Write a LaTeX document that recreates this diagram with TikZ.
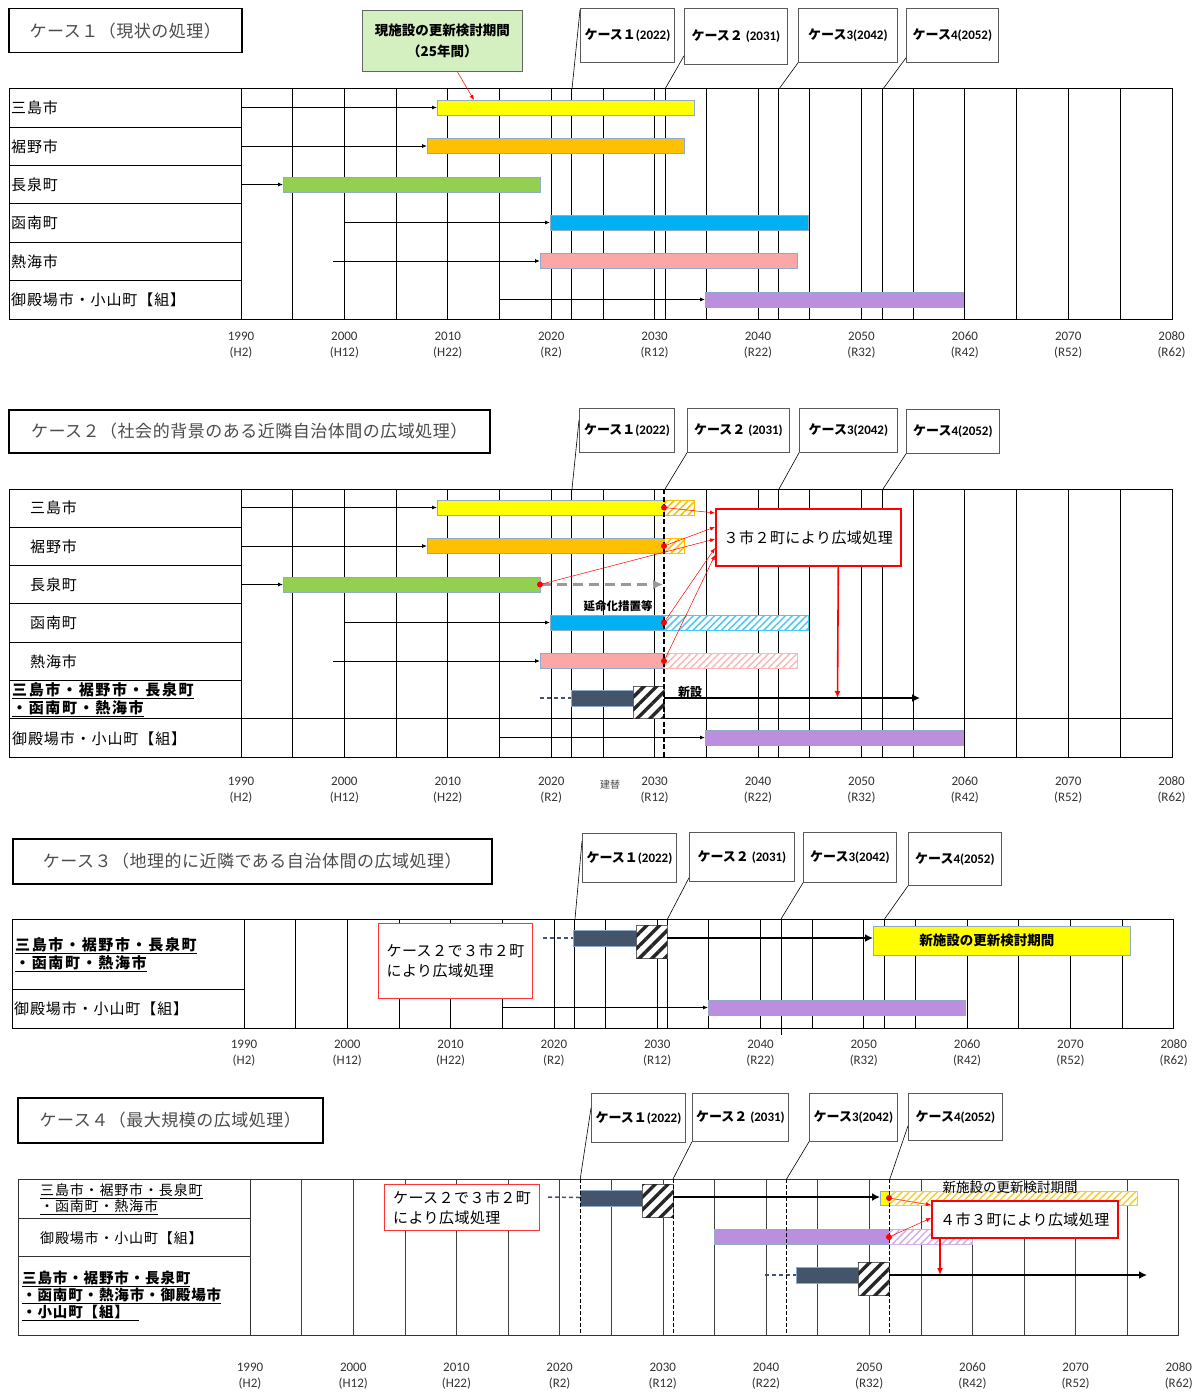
\documentclass[tikz,border=0pt]{standalone}
\usepackage{fontspec}
\setmainfont{Carlito}
\newfontfamily\jp{Noto Sans CJK JP}
\newfontfamily\jpt[LetterSpace=3]{Noto Sans CJK JP}
\newfontfamily\jpa[LetterSpace=6]{Noto Sans CJK JP}
\newfontfamily\jpb[LetterSpace=11]{Noto Sans CJK JP}
\usetikzlibrary{arrows.meta,patterns.meta}
\definecolor{cyel}{HTML}{FFFF00}
\definecolor{corg}{HTML}{FFC000}
\definecolor{cgrn}{HTML}{92D050}
\definecolor{cblu}{HTML}{00B0F0}
\definecolor{cpnk}{HTML}{F9A7A7}
\definecolor{cpur}{HTML}{BB8FDD}
\definecolor{cnav}{HTML}{44546A}
\definecolor{cedge}{HTML}{8FAACC}
\definecolor{cmint}{HTML}{D5F0C0}
\definecolor{cgold}{HTML}{F2C200}

\begin{document}
\begin{tikzpicture}[x=1pt, y=-1pt,
    ttl/.style={draw=black, line width=1.5pt, anchor=north west, inner sep=0pt, text=black!70, font=\jpt\fontsize{17}{20}\selectfont},
    casebox/.style={draw=black!65, line width=0.8pt, fill=white, anchor=north west, inner sep=0pt, font=\bfseries\fontsize{13}{15}\selectfont},
    lbl/.style={anchor=west, inner sep=0pt, font=\jpa\fontsize{15}{17}\selectfont},
    glbl/.style={anchor=west, inner sep=0pt, align=left, font=\jpb\bfseries\fontsize{15}{18}\selectfont},
    bar/.style={draw=cedge, line width=0.8pt, anchor=west, minimum height=15pt, inner sep=0pt},
    hatch/.style={draw=#1, line width=0.8pt, anchor=west, minimum height=15pt, inner sep=0pt, fill=white, postaction={pattern={Lines[angle=45,distance=5pt,line width=1.5pt]}, pattern color=#1}},
    stripe/.style={draw=black!60, line width=0.8pt, anchor=north west, inner sep=0pt, minimum width=31pt, minimum height=33pt, fill=white, postaction={pattern={Lines[angle=45,distance=9pt,line width=3.4pt]}, pattern color=black!85}},
    redbox/.style={draw=red, line width=1.6pt, fill=white, anchor=north west, inner sep=0pt, align=left, font=\jpt\fontsize{15}{20}\selectfont},
    dot/.style={circle, fill=red, inner sep=0pt, minimum size=6pt},
    yr/.style={align=center, inner sep=0pt, text=black!80, font=\fontsize{13}{16}\selectfont},
    tbl/.style={line width=1pt},
    gl/.style={line width=0.8pt},
    ptr/.style={line width=0.6pt},
    arr/.style={-{Latex[length=5pt,width=4pt]}, line width=0.8pt},
    bigarr/.style={-{Latex[length=8pt,width=8pt]}, line width=1.8pt},
    redarr/.style={red, -{Latex[length=5pt,width=4pt]}, line width=0.5pt},
    redbig/.style={red, -{Latex[length=7pt,width=6pt]}, line width=1.6pt},
    navdash/.style={cnav, line width=1.5pt, dash pattern=on 4pt off 3pt},
    grayarr/.style={black!40, line width=2.2pt, dash pattern=on 10pt off 6pt, -{Latex[length=10pt,width=10pt]}},
    tinytxt/.style={inner sep=0pt, font=\jp\bfseries\fontsize{11.5}{13}\selectfont}
    ]
\useasboundingbox (0,0) rectangle (1197,1394);
\fill[white] (0,0) rectangle (1197,1394);

% ---------------- case 1
\node[ttl, minimum width=233pt, minimum height=44pt] (t1) at (8,8) {ケース１（現状の処理）};
\node[casebox, minimum width=94pt, minimum height=54pt] (c11) at (580,8) {{\jp ケース１}(2022)};
\node[casebox, minimum width=103pt, minimum height=56pt] (c12) at (684,8) {{\jp ケース２} (2031)};
\node[casebox, minimum width=99pt, minimum height=54pt] (c13) at (798,8) {{\jp ケース}3(2042)};
\node[casebox, minimum width=92pt, minimum height=54pt] (c14) at (906,8) {{\jp ケース}4(2052)};
\node[draw=black!60, line width=0.8pt, fill=cmint, anchor=north west, minimum width=160pt, minimum height=61pt, inner sep=0pt, align=center, font=\jp\bfseries\fontsize{13.5}{21}\selectfont] (g1) at (362,10) {現施設の更新検討期間\\（25年間）};

\foreach \k in {5,10,...,85,32,41,52,62}
  \draw[gl] (241+\k*10.34,89) -- (241+\k*10.34,319);
\draw[tbl] (9,89) rectangle (1172,319);
\draw[tbl] (241,89) -- (241,319);
\foreach \r in {1,...,5}
  \draw[tbl] (9,89+\r*38.33) -- (241,89+\r*38.33);

\coordinate (p11) at (572,89);
\coordinate (p12) at (665,89);
\coordinate (p13) at (779,89);
\coordinate (p14) at (883,89);
\draw[ptr] (p11) -- ([yshift=-2pt]c11.north west);
\draw[ptr] (p12) -- ([yshift=9pt]c12.south west);
\draw[ptr] (p13) -- (c13.south west);
\draw[ptr] (p14) -- ([yshift=5pt]c14.south west);

\foreach \nm [count=\i] in {三島市,裾野市,長泉町,函南町,熱海市,御殿場市・小山町【組】}
  \node[lbl] (l1\i) at (11,69.8+\i*38.33) {\nm};

\node[bar, fill=cyel, minimum width=257pt] (m1) at (437,107.5) {};
\node[bar, fill=corg, minimum width=257pt] (s1) at (427,146) {};
\node[bar, fill=cgrn, minimum width=257pt] (n1) at (283,184.5) {};
\node[bar, fill=cblu, minimum width=258pt] (k1) at (550,222.5) {};
\node[bar, fill=cpnk, minimum width=257pt] (a1) at (540,261) {};
\node[bar, fill=cpur, minimum width=258pt] (o1) at (705,299.5) {};
\coordinate (m1s) at (241,107.5);
\coordinate (s1s) at (241,146);
\coordinate (n1s) at (241,184.5);
\coordinate (k1s) at (344,222.5);
\coordinate (a1s) at (333,261);
\coordinate (o1s) at (499,299.5);
\draw[arr] (m1s) -- (m1);
\draw[arr] (s1s) -- (s1);
\draw[arr] (n1s) -- (n1);
\draw[arr] (k1s) -- (k1);
\draw[arr] (a1s) -- (a1);
\draw[arr] (o1s) -- (o1);
\coordinate (g1e) at (474,100);
\draw[redarr] ([xshift=15pt]g1.south) -- (g1e);

\foreach \y/\e [count=\i from 0] in {1990/H2,2000/H12,2010/H22,2020/R2,2030/R12,2040/R22,2050/R32,2060/R42,2070/R52,2080/R62}
  \node[yr] (ya\i) at (241+\i*103.4,345) {\y\\(\e)};

% ---------------- case 2
\node[ttl, minimum width=481pt, minimum height=43pt] (t2) at (8,409) {ケース２（社会的背景のある近隣自治体間の広域処理）};
\node[casebox, minimum width=95pt, minimum height=44pt] (c21) at (579,408) {{\jp ケース１}(2022)};
\node[casebox, minimum width=102pt, minimum height=44pt] (c22) at (687,408) {{\jp ケース２} (2031)};
\node[casebox, minimum width=98pt, minimum height=44pt] (c23) at (799,408) {{\jp ケース}3(2042)};
\node[casebox, minimum width=93pt, minimum height=44pt] (c24) at (906,409) {{\jp ケース}4(2052)};

\foreach \k in {5,10,...,85,32,52,62}
  \draw[gl] (241+\k*10.34,489) -- (241+\k*10.34,757);
\draw[tbl] (9,489) rectangle (1172,757);
\draw[tbl] (241,489) -- (241,757);
\foreach \r in {1,...,5}
  \draw[tbl] (9,489+\r*38.29) -- (241,489+\r*38.29);
\draw[tbl] (9,718.7) -- (1172,718.7);

\coordinate (p21) at (572,489);
\coordinate (p22) at (665,489);
\coordinate (p23) at (779,489);
\coordinate (p24) at (883,489);
\draw[ptr] (p21) -- ([yshift=-12pt]c21.north west);
\draw[ptr] (p22) -- (c22.south west);
\draw[ptr] (p23) -- (c23.south west);
\draw[ptr] (p24) -- (c24.south west);

\foreach \nm [count=\i] in {三島市,裾野市,長泉町,函南町,熱海市}
  \node[lbl] (l2\i) at (30,469.9+\i*38.29) {\nm};
\node[glbl] (lg2) at (12,699.5) {\underline{三島市・裾野市・長泉町}\\\underline{・函南町・熱海市}};
\node[lbl] (lo2) at (12,738.5) {御殿場市・小山町【組】};

\node[bar, fill=cyel, minimum width=227pt] (m2) at (437,507.5) {};
\node[hatch=cgold, minimum width=30pt] (m2h) at (664,507.5) {};
\node[bar, fill=corg, minimum width=237pt] (s2) at (427,546) {};
\node[hatch=corg, minimum width=20pt] (s2h) at (664,546) {};
\node[bar, fill=cgrn, minimum width=257pt] (n2) at (283,584.5) {};
\node[bar, fill=cblu, minimum width=114pt] (k2) at (550,622.5) {};
\node[hatch=cblu!70, minimum width=144pt] (k2h) at (664,622.5) {};
\node[bar, fill=cpnk, minimum width=124pt] (a2) at (540,661) {};
\node[hatch=cpnk!80, minimum width=133pt] (a2h) at (664,661) {};
\node[bar, fill=cpur, minimum width=258pt] (o2) at (705,737.5) {};
\coordinate (m2s) at (241,507.5);
\coordinate (s2s) at (241,546);
\coordinate (n2s) at (241,584.5);
\coordinate (k2s) at (344,622.5);
\coordinate (a2s) at (333,661);
\coordinate (o2s) at (499,737.5);
\draw[arr] (m2s) -- (m2);
\draw[arr] (s2s) -- (s2);
\draw[arr] (n2s) -- (n2);
\draw[arr] (k2s) -- (k2);
\draw[arr] (a2s) -- (a2);
\draw[arr] (o2s) -- (o2);
\coordinate (ge2) at (663,584.5);
\draw[grayarr] (n2) -- (ge2);
\node[tinytxt] (en2) at (618,606) {延命化措置等};

% new facility row
\coordinate (nv2) at (540,698);
\node[bar, fill=cnav, minimum width=62pt, minimum height=16pt] (d2) at (571,698) {};
\draw[navdash] (nv2) -- (d2);
\node[stripe, minimum height=32pt] (x2) at (633,686) {};
\coordinate (xs2) at (664,698);
\coordinate (xe2) at (920,698);
\draw[bigarr] (xs2) -- (xe2);
\node[tinytxt, font=\jp\bfseries\fontsize{12}{13}\selectfont] (ns2) at (690,692) {新設};

\draw[line width=1.5pt, dash pattern=on 5pt off 2.5pt] (664,489) -- (664,757);

\node[redbox, minimum width=185pt, minimum height=57pt, align=center] (r2) at (715,508) {３市２町により広域処理};
\node[dot] (dm2) at (664,507.5) {};
\node[dot] (ds2) at (664,546) {};
\node[dot] (dn2) at (540,584.5) {};
\node[dot] (dk2) at (664,622.5) {};
\node[dot] (da2) at (664,661) {};
\draw[redarr] (dm2) -- ([yshift=-5pt]r2.north west);
\draw[redarr] (ds2) -- ([yshift=-19pt]r2.north west);
\draw[redarr] (dn2) -- ([yshift=-31pt]r2.north west);
\draw[redarr] (dk2) -- ([yshift=-40pt]r2.north west);
\draw[redarr] (da2) -- ([yshift=-47pt]r2.north west);
\coordinate (rt2) at (837.5,698);
\draw[redbig] ([xshift=30pt]r2.south) -- (rt2);

\foreach \y/\e [count=\i from 0] in {1990/H2,2000/H12,2010/H22,2020/R2,2030/R12,2040/R22,2050/R32,2060/R42,2070/R52,2080/R62}
  \node[yr] (yb\i) at (241+\i*103.4,790) {\y\\(\e)};
\node[inner sep=0pt, text=black!70, font=\jp\fontsize{10}{11}\selectfont] (kt2) at (610,785) {建替};

% ---------------- case 3
\node[ttl, minimum width=479pt, minimum height=45pt] (t3) at (12,838) {ケース３（地理的に近隣である自治体間の広域処理）};
\node[casebox, minimum width=94pt, minimum height=49pt] (c31) at (582,833) {{\jp ケース１}(2022)};
\node[casebox, minimum width=105pt, minimum height=49pt] (c32) at (689,832) {{\jp ケース２} (2031)};
\node[casebox, minimum width=93pt, minimum height=50pt] (c33) at (803,832) {{\jp ケース}3(2042)};
\node[casebox, minimum width=93pt, minimum height=53pt] (c34) at (908,832) {{\jp ケース}4(2052)};

\foreach \k in {5,10,...,85,32,41,52,62}
  \draw[gl] (244+\k*10.33,919) -- (244+\k*10.33,1028);
\draw[gl] (244+52*10.33,1028) -- (244+52*10.33,1035);
\draw[tbl] (12,919) rectangle (1173,1028);
\draw[tbl] (244,919) -- (244,1028);
\draw[tbl] (12,989) -- (244,989);

\coordinate (p31) at (575,919);
\coordinate (p32) at (667.5,919);
\coordinate (p33) at (781,919);
\coordinate (p34) at (884.5,919);
\draw[ptr] (p31) -- ([yshift=-8pt]c31.north west);
\draw[ptr] (p32) -- ([yshift=4pt]c32.south west);
\draw[ptr] (p33) -- (c33.south west);
\draw[ptr] (p34) -- (c34.south west);

\node[glbl] (lg3) at (15,955) {\underline{三島市・裾野市・長泉町}\\\underline{・函南町・熱海市}};
\node[lbl] (lo3) at (14,1009) {御殿場市・小山町【組】};

\node[redbox, line width=1pt, draw=red!80, minimum width=154pt, minimum height=75pt] (r3) at (378,923) {ケース２で３市２町\\により広域処理};

\coordinate (nv3) at (543,938);
\node[bar, fill=cnav, minimum width=63pt, minimum height=16pt] (d3) at (573,938) {};
\draw[navdash] (nv3) -- (d3);
\node[stripe] (x3) at (636,925) {};
\coordinate (xs3) at (667,938);
\node[bar, fill=cyel, minimum width=257pt, minimum height=29pt, font=\jp\bfseries\fontsize{13.5}{15}\selectfont] (y3) at (873,940.5) {\hspace*{-30pt}新施設の更新検討期間};
\draw[bigarr] (xs3) -- (y3.west |- xs3);
\node[bar, fill=cpur, minimum width=257pt] (o3) at (708,1007.5) {};
\coordinate (o3s) at (502,1007.5);
\draw[arr] (o3s) -- (o3);

\foreach \y/\e [count=\i from 0] in {1990/H2,2000/H12,2010/H22,2020/R2,2030/R12,2040/R22,2050/R32,2060/R42,2070/R52,2080/R62}
  \node[yr] (yc\i) at (244+\i*103.3,1053) {\y\\(\e)};

% ---------------- case 4
\node[ttl, minimum width=305pt, minimum height=45pt] (t4) at (17,1097) {ケース４（最大規模の広域処理）};
\node[casebox, minimum width=94pt, minimum height=49pt] (c41) at (591,1093) {{\jp ケース１}(2022)};
\node[casebox, minimum width=96pt, minimum height=48pt] (c42) at (692,1093) {{\jp ケース２} (2031)};
\node[casebox, minimum width=88pt, minimum height=48pt] (c43) at (809,1093) {{\jp ケース}3(2042)};
\node[casebox, minimum width=94pt, minimum height=47pt] (c44) at (908,1093) {{\jp ケース}4(2052)};

\foreach \k in {5,10,...,85}
  \draw[line width=0.6pt, black!75] (250+\k*10.32,1179) -- (250+\k*10.32,1335);
\draw[line width=0.8pt, black!80] (18,1179) rectangle (1178,1335);
\draw[line width=0.8pt, black!80] (250,1179) -- (250,1335);
\draw[line width=0.8pt, black!80] (18,1218) -- (250,1218);
\draw[line width=0.8pt, black!80] (18,1256) -- (250,1256);

\coordinate (p41) at (580.2,1179);
\coordinate (p42) at (673,1179);
\coordinate (p43) at (786.6,1179);
\coordinate (p44) at (889.8,1179);
\draw[ptr] (p41) -- ([yshift=-15pt]c41.north west);
\draw[ptr] (p42) -- (c42.south west);
\draw[ptr] (p43) -- (c43.south west);
\draw[ptr] (p44) -- ([yshift=15pt]c44.south west);

\node[lbl, align=left, font=\jpa\fontsize{14}{16}\selectfont] (lm4) at (40,1199) {\underline{三島市・裾野市・長泉町}\\\underline{・函南町・熱海市}};
\node[lbl, font=\jpa\fontsize{14}{16}\selectfont] (lo4) at (40,1238) {御殿場市・小山町【組】};
\node[glbl, font=\jpa\bfseries\fontsize{14.5}{17}\selectfont] (lg4) at (22,1296) {\underline{三島市・裾野市・長泉町}\\\underline{・函南町・熱海市・御殿場市}\\\underline{・小山町【組】\hspace*{10pt}}};

\node[redbox, line width=1pt, draw=red!80, minimum width=155pt, minimum height=46pt] (r4a) at (384,1184) {ケース２で３市２町\\により広域処理};

% row 1
\coordinate (nv4) at (548,1197);
\node[bar, fill=cnav, minimum width=62pt, minimum height=16pt] (d4a) at (580,1198) {};
\draw[navdash] (nv4) -- (d4a);
\node[stripe] (x4a) at (642,1184) {};
\coordinate (xs4) at (673,1197);
\node[bar, fill=cyel, minimum width=9pt, minimum height=14pt] (ys4) at (880,1198) {};
\draw[bigarr] (xs4) -- (ys4.west |- xs4);
\node[hatch=cgold!80, minimum width=248pt, minimum height=14pt] (yh4) at (889,1198) {};
\node[inner sep=0pt, font=\jp\fontsize{13.5}{15}\selectfont] (tx4) at (1010,1187) {新施設の更新検討期間};
% row 2
\node[bar, fill=cpur, minimum width=175pt] (o4) at (714,1236.5) {};
\node[hatch=cpur!70, minimum width=83pt] (oh4) at (889,1236.5) {};
% row 3
\coordinate (nv4b) at (765,1275);
\node[bar, fill=cnav, minimum width=62pt, minimum height=16pt] (d4b) at (796,1275) {};
\draw[navdash] (nv4b) -- (d4b);
\node[stripe] (x4b) at (858,1262) {};
\coordinate (xs4b) at (889,1275);
\coordinate (xe4b) at (1147,1275);
\draw[bigarr] (xs4b) -- (xe4b);

\foreach \k in {32,41,52,62}
  \draw[line width=1.1pt, dash pattern=on 4pt off 2pt] (250+\k*10.32,1179) -- (250+\k*10.32,1335);

\node[redbox, minimum width=186pt, minimum height=37pt, align=center] (r4b) at (931,1200) {４市３町により広域処理};
\node[dot] (dy4) at (889,1198) {};
\node[dot] (do4) at (889,1237) {};
\draw[redarr] (dy4) -- ([yshift=-5pt]r4b.north west);
\draw[redarr] (do4) -- ([yshift=-18pt]r4b.north west);
\coordinate (rt4) at (940,1275);
\draw[redbig] ([xshift=9pt]r4b.south west) -- (rt4);

\foreach \y/\e [count=\i from 0] in {1990/H2,2000/H12,2010/H22,2020/R2,2030/R12,2040/R22,2050/R32,2060/R42,2070/R52,2080/R62}
  \node[yr] (yd\i) at (250+\i*103.2,1376) {\y\\(\e)};
\end{tikzpicture}
\end{document}
